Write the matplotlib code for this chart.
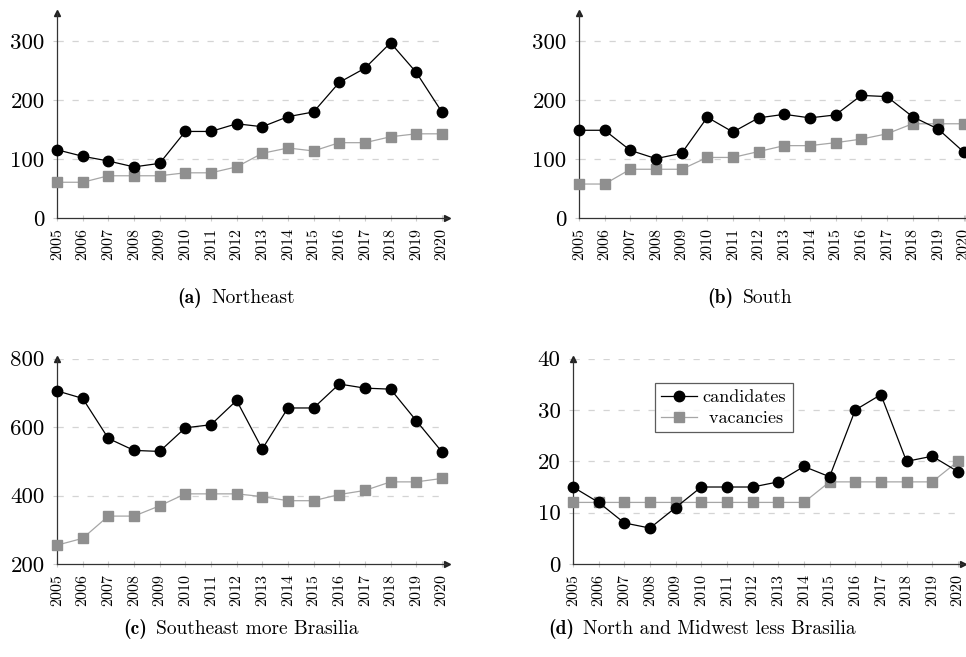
import matplotlib
matplotlib.use("Agg")
import matplotlib.pyplot as plt

years = list(range(2005, 2021))
year_labels = [str(y) for y in years]

ne_candidates = [116, 105, 97, 87, 93, 147, 147, 160, 155, 172, 180, 230, 254, 297, 247, 180]
ne_vacancies = [61, 61, 72, 72, 72, 77, 77, 87, 110, 119, 114, 128, 128, 138, 143, 143]

s_candidates = [149, 149, 115, 101, 110, 171, 146, 170, 176, 170, 175, 208, 206, 172, 151, 112]
s_vacancies = [58, 58, 83, 83, 83, 103, 103, 113, 123, 123, 128, 134, 143, 160, 160, 160]

se_candidates = [706, 684, 567, 532, 529, 598, 607, 678, 536, 656, 656, 726, 714, 711, 619, 528]
se_vacancies = [255, 275, 340, 340, 370, 405, 405, 405, 397, 385, 385, 403, 415, 440, 440, 450]

nm_candidates = [15, 12, 8, 7, 11, 15, 15, 15, 16, 19, 17, 30, 33, 20, 21, 18]
nm_vacancies = [12, 12, 12, 12, 12, 12, 12, 12, 12, 12, 16, 16, 16, 16, 16, 20]

W, H = 966, 657
fig = plt.figure(figsize=(W / 100, H / 100), dpi=100)

CM = "cmr10"
CMB = "cmb10"

def px_axes(x0, x1, ytop, ybot):
    return fig.add_axes([x0 / W, (H - ybot) / H, (x1 - x0) / W, (ybot - ytop) / H])

def style(ax, ylim, yticks, ytop_data):
    ax.set_xlim(2005, 2020.2)
    ax.set_ylim(ylim[0], ytop_data)
    for s in ["top", "right"]:
        ax.spines[s].set_visible(False)
    for s in ["left", "bottom"]:
        ax.spines[s].set_color("#333333")
        ax.spines[s].set_linewidth(0.9)
    ax.set_xticks(years)
    ax.set_xticklabels(year_labels, rotation=90, fontfamily=CM, fontsize=11.6)
    ax.set_yticks(yticks)
    ax.set_yticklabels([str(v) for v in yticks], fontfamily=CM, fontsize=16.5)
    ax.tick_params(axis="x", direction="inout", length=5, color="#cccccc", pad=4.5)
    ax.tick_params(axis="y", direction="out", length=3, color="#cccccc", pad=6)
    for v in yticks[1:]:
        ax.axhline(v, xmin=0, xmax=(2020 - 2005) / 15.2, color="#d4d4d4",
                   lw=0.9, dashes=(5, 7), zorder=0)
    ax.plot(1, 0, ">", color="#222222", markersize=4, transform=ax.transAxes, clip_on=False)
    ax.plot(0, 1, "^", color="#222222", markersize=4, transform=ax.transAxes, clip_on=False)

def draw(ax, cand, vac):
    ax.plot(years, vac, color="#a6a6a6", lw=0.9, marker="s", markersize=6.5,
            markerfacecolor="#8f8f8f", markeredgecolor="#8f8f8f", label=" vacancies",
            clip_on=False, zorder=3)
    ax.plot(years, cand, color="black", lw=0.9, marker="o", markersize=7.5,
            label="candidates", clip_on=False, zorder=4)

axa = px_axes(57, 447, 12.7, 218.3)
draw(axa, ne_candidates, ne_vacancies)
style(axa, (0, 300), [0, 100, 200, 300], 348)

axb = px_axes(579, 969, 12.7, 218.3)
draw(axb, s_candidates, s_vacancies)
style(axb, (0, 300), [0, 100, 200, 300], 348)

axc = px_axes(57, 447, 358.7, 564)
draw(axc, se_candidates, se_vacancies)
style(axc, (200, 800), [200, 400, 600, 800], 800)

axd = px_axes(573, 963, 358.7, 564)
draw(axd, nm_candidates, nm_vacancies)
style(axd, (0, 40), [0, 10, 20, 30, 40], 40)

h, l = axd.get_legend_handles_labels()
leg = axd.legend([h[1], h[0]], [l[1], l[0]], loc="upper left",
                 bbox_to_anchor=((655 - 573) / 390, (564 - 383) / 205.3),
                 prop={"family": CM, "size": 13}, frameon=True, fancybox=False,
                 edgecolor="#333333", borderpad=0.35, borderaxespad=0,
                 handlelength=2.0, handletextpad=0.3, labelspacing=0.3)
leg.get_frame().set_linewidth(0.9)

# captions, centred on measured positions
caps = [(236, 298, "(a)", "Northeast"),
        (750, 298, "(b)", "South"),
        (241, 629, "(c)", "Southeast more Brasilia"),
        (702, 629, "(d)", "North and Midwest less Brasilia")]
renderer = fig.canvas.get_renderer()
GAP = 9
for cx, cy, lab, txt in caps:
    t1 = fig.text(0, (H - cy) / H, lab, fontfamily=CMB, fontsize=14, va="center", ha="left")
    t2 = fig.text(0, (H - cy) / H, txt, fontfamily=CM, fontsize=14, va="center", ha="left")
    w1 = t1.get_window_extent(renderer).width
    w2 = t2.get_window_extent(renderer).width
    left = cx - (w1 + GAP + w2) / 2
    t1.set_x(left / W)
    t2.set_x((left + w1 + GAP) / W)

fig.savefig("out.png", dpi=100)
